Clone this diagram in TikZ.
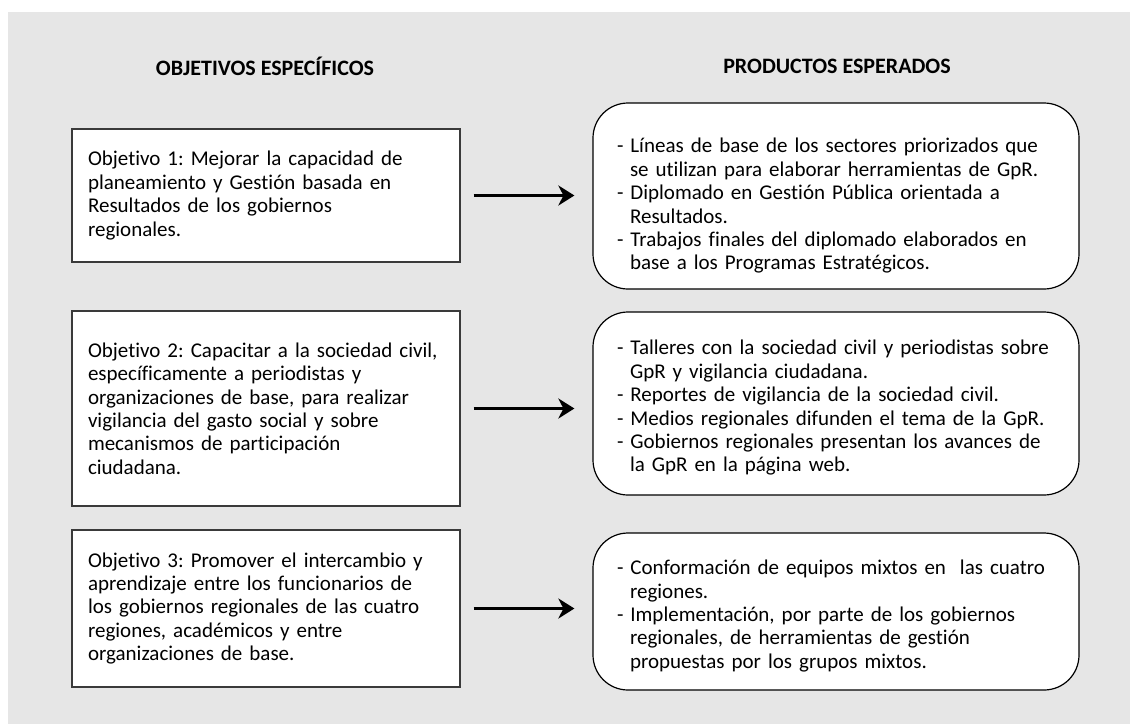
\documentclass[tikz,border=0pt]{standalone}
\usepackage{fontspec}
\setmainfont{Carlito}[Ligatures={CommonOff,ContextualOff}]
\usetikzlibrary{arrows.meta}

\definecolor{fondo}{HTML}{E6E6E6}
\definecolor{borde}{HTML}{3A3A3A}

\newcommand\producto[1]{\par\hangindent=13pt\hangafter=1 \begingroup\let\\\newline - #1\endgroup}

\tikzset{
  texto/.style={align=left, font=\fontsize{21}{23.4}\selectfont\frenchspacing},
  objbox/.style={texto, draw=borde, line width=1.2pt, fill=white,
    text width=378pt, inner xsep=5pt, execute at begin node={\leftskip=11pt}},
  prodbox/.style={texto, draw=black, line width=1.2pt, fill=white, rounded corners=35pt,
    text width=468pt, inner xsep=9pt, execute at begin node={\leftskip=15pt}},
  titulo/.style={font=\bfseries\fontsize{22}{26}\selectfont},
  flecha/.style={line width=2.4pt, -{Stealth[length=16pt,width=20pt,inset=5pt]},
    shorten <=13pt, shorten >=18pt}
}

\begin{document}
\begin{tikzpicture}[x=1pt,y=-1pt]
  \useasboundingbox (0,0) rectangle (1130,724);
  \fill[fondo] (8,12) rectangle (1130,724);

  % titulos
  \node[titulo] (tobj) at (265,66) {OBJETIVOS ESPECÍFICOS};
  \node[titulo] (tprod) at (837,66) {PRODUCTOS ESPERADOS};

  % objetivos
  \node[objbox, minimum height=133pt] (obj1) at (266,195.5)
    {Objetivo 1: Mejorar la capacidad de\\ planeamiento y Gestión basada en\\ Resultados de los gobiernos\\ regionales.};
  \node[objbox, minimum height=195pt] (obj2) at (266,408.5)
    {Objetivo 2: Capacitar a la sociedad civil,\\ específicamente a periodistas y\\ organizaciones de base, para realizar\\ vigilancia del gasto social y sobre\\ mecanismos de participación\\ ciudadana.};
  \node[objbox, minimum height=157pt] (obj3) at (266,608.5)
    {Objetivo 3: Promover el intercambio y\\ aprendizaje entre los funcionarios de\\ los gobiernos regionales de las cuatro\\ regiones, académicos y entre\\ organizaciones de base.\par\vspace{16pt}};

  % productos
  \node[prodbox, minimum height=186pt] (prod1) at (836,196) {\vspace*{11pt}%
    \producto{Líneas de base de los sectores priorizados que\\ se utilizan para elaborar herramientas de GpR.}
    \producto{Diplomado en Gestión Pública orientada a\\ Resultados.}
    \producto{Trabajos finales del diplomado elaborados en\\ base a los Programas Estratégicos.}\par};
  \node[prodbox, minimum height=183pt] (prod2) at (836,403.5) {%
    \producto{Talleres con la sociedad civil y periodistas sobre\\ GpR y vigilancia ciudadana.}
    \producto{Reportes de vigilancia de la sociedad civil.}
    \producto{Medios regionales difunden el tema de la GpR.}
    \producto{Gobiernos regionales presentan los avances de\\ la GpR en la página web.}\par\vspace{20pt}};
  \node[prodbox, minimum height=157pt] (prod3) at (836,611.5) {%
    \producto{Conformación de equipos mixtos en~ las cuatro\\ regiones.}
    \producto{Implementación, por parte de los gobiernos\\ regionales, de herramientas de gestión\\ propuestas por los grupos mixtos.}\par\vspace{21pt}};

  % flechas
  \draw[flecha] (obj1) -- (obj1 -| prod1.west);
  \draw[flecha] (obj2) -- (obj2 -| prod2.west);
  \draw[flecha] (obj3) -- (obj3 -| prod3.west);
\end{tikzpicture}
\end{document}
